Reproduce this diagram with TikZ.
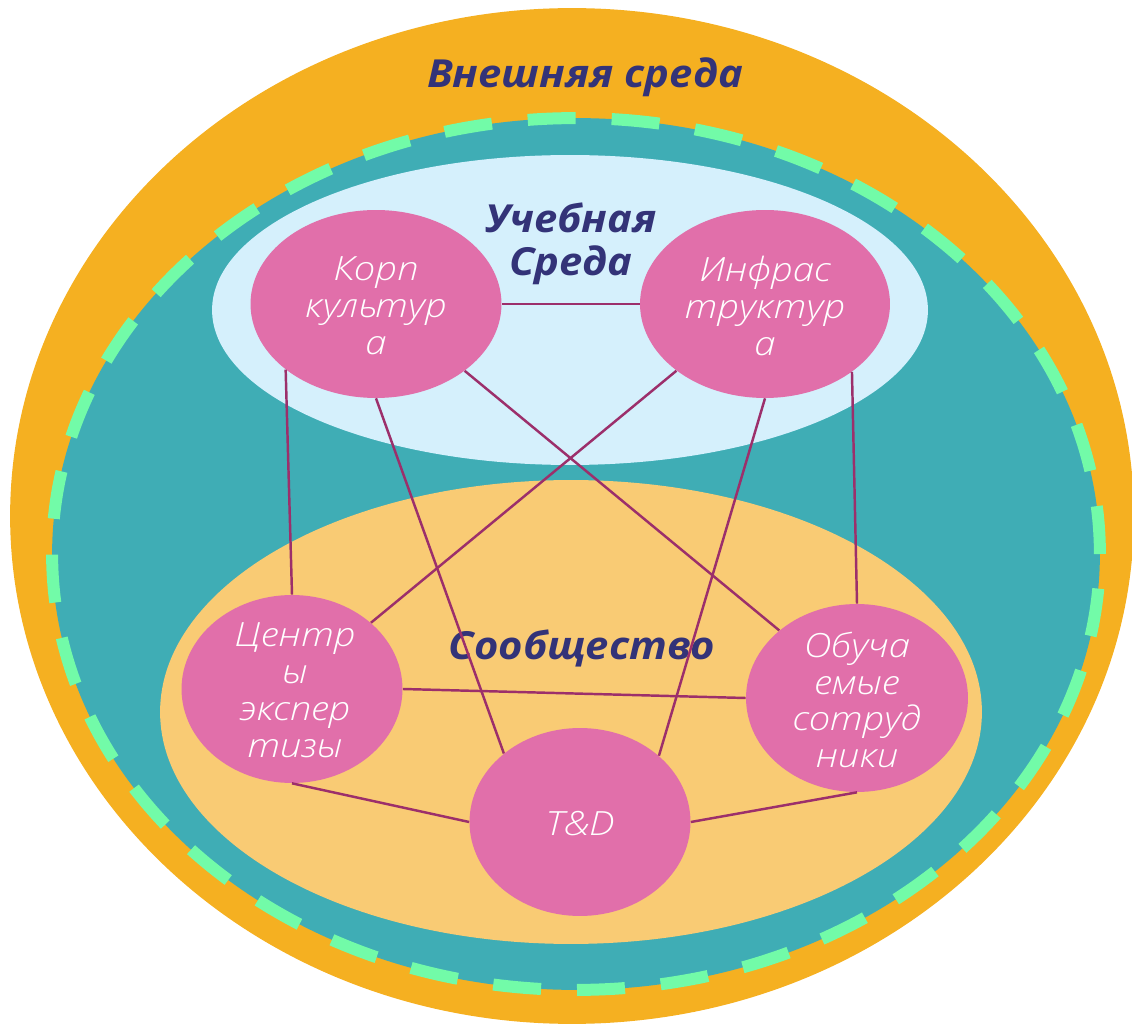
\documentclass[tikz,border=0pt]{standalone}
\usepackage{fontspec}
\setmainfont{Open Sans}
\newfontfamily\lightit{Open Sans Light Italic}[FakeStretch=1.15]
\newfontfamily\titlefont{Open Sans Bold Italic}[FakeStretch=1.08]
\usetikzlibrary{shapes.geometric}
\definecolor{orangec}{HTML}{F5B021}
\definecolor{tealc}{HTML}{3FADB5}
\definecolor{greenc}{HTML}{72FBA8}
\definecolor{bluec}{HTML}{D5F0FC}
\definecolor{lorangec}{HTML}{F9CB74}
\definecolor{pinkc}{HTML}{E16FAA}
\definecolor{linkc}{HTML}{9C2F6B}
\definecolor{navy}{HTML}{333378}
\begin{document}
\begin{tikzpicture}[x=0.02cm,y=-0.02cm,
  pinkell/.style={ellipse, fill=pinkc, inner sep=0pt, minimum height=3.76cm},
  ptext/.style={text=white, align=center, font=\lightit\fontsize{19}{21}\selectfont, inner sep=0pt},
  titletext/.style={text=navy, align=center, font=\titlefont\fontsize{22}{24.5}\selectfont, inner sep=0pt},
  link/.style={draw=linkc, line width=1.4pt}]
\useasboundingbox (0,0) rectangle (1132,1026);
% environments
\fill[orangec] (572,516) ellipse [x radius=11.24cm, y radius=10.16cm];
\fill[tealc] (576,554) ellipse [x radius=10.48cm, y radius=8.72cm];
\draw[greenc, line width=0.24cm, dash pattern=on 0.96cm off 0.72cm] (576,554) ellipse [x radius=10.48cm, y radius=8.72cm];
\fill[bluec] (570,310) ellipse [x radius=7.16cm, y radius=3.1cm];
\fill[lorangec] (571,712) ellipse [x radius=8.22cm, y radius=4.64cm];
% titles
\node[titletext] (ext) at (585,77) {Внешняя среда};
\node[titletext] (learn) at (571,244) {Учебная\\Среда};
\node[titletext] (comm) at (582,648) {Сообщество};
% pink nodes
\node[pinkell, minimum width=5.02cm] (korp) at (376,304) {};
\node[pinkell, minimum width=5.0cm] (infra) at (765,304) {};
\node[pinkell, minimum width=4.42cm] (cent) at (292,689) {};
\node[pinkell, minimum width=4.44cm] (obuch) at (857,698) {};
\node[pinkell, minimum width=4.42cm] (td) at (580,822) {};
\node[ptext] (korpT) at (376,306) {Корп\\культур\\а};
\node[ptext] (infraT) at (765,306) {Инфрас\\труктур\\а};
\node[ptext] (centT) at (295,690) {Центр\\ы\\экспер\\тизы};
\node[ptext] (obuchT) at (857,700) {Обуча\\емые\\сотруд\\ники};
\node[ptext] (tdT) at (580,824) {T\&D};
% links
\draw[link] (korp.east) -- (infra.west);
\draw[link] (korp.216.6) -- (cent.north);
\draw[link] (korp.south) -- (td.138.9);
\draw[link] (korp.323.3) -- (obuch.139.3);
\draw[link] (infra.217.3) -- (cent.40.7);
\draw[link] (infra.south) -- (td.40.6);
\draw[link] (infra.322.7) -- (obuch.north);
\draw[link] (cent.east) -- (obuch.west);
\draw[link] (cent.south) -- (td.west);
\draw[link] (td.east) -- (obuch.south);
\end{tikzpicture}
\end{document}
